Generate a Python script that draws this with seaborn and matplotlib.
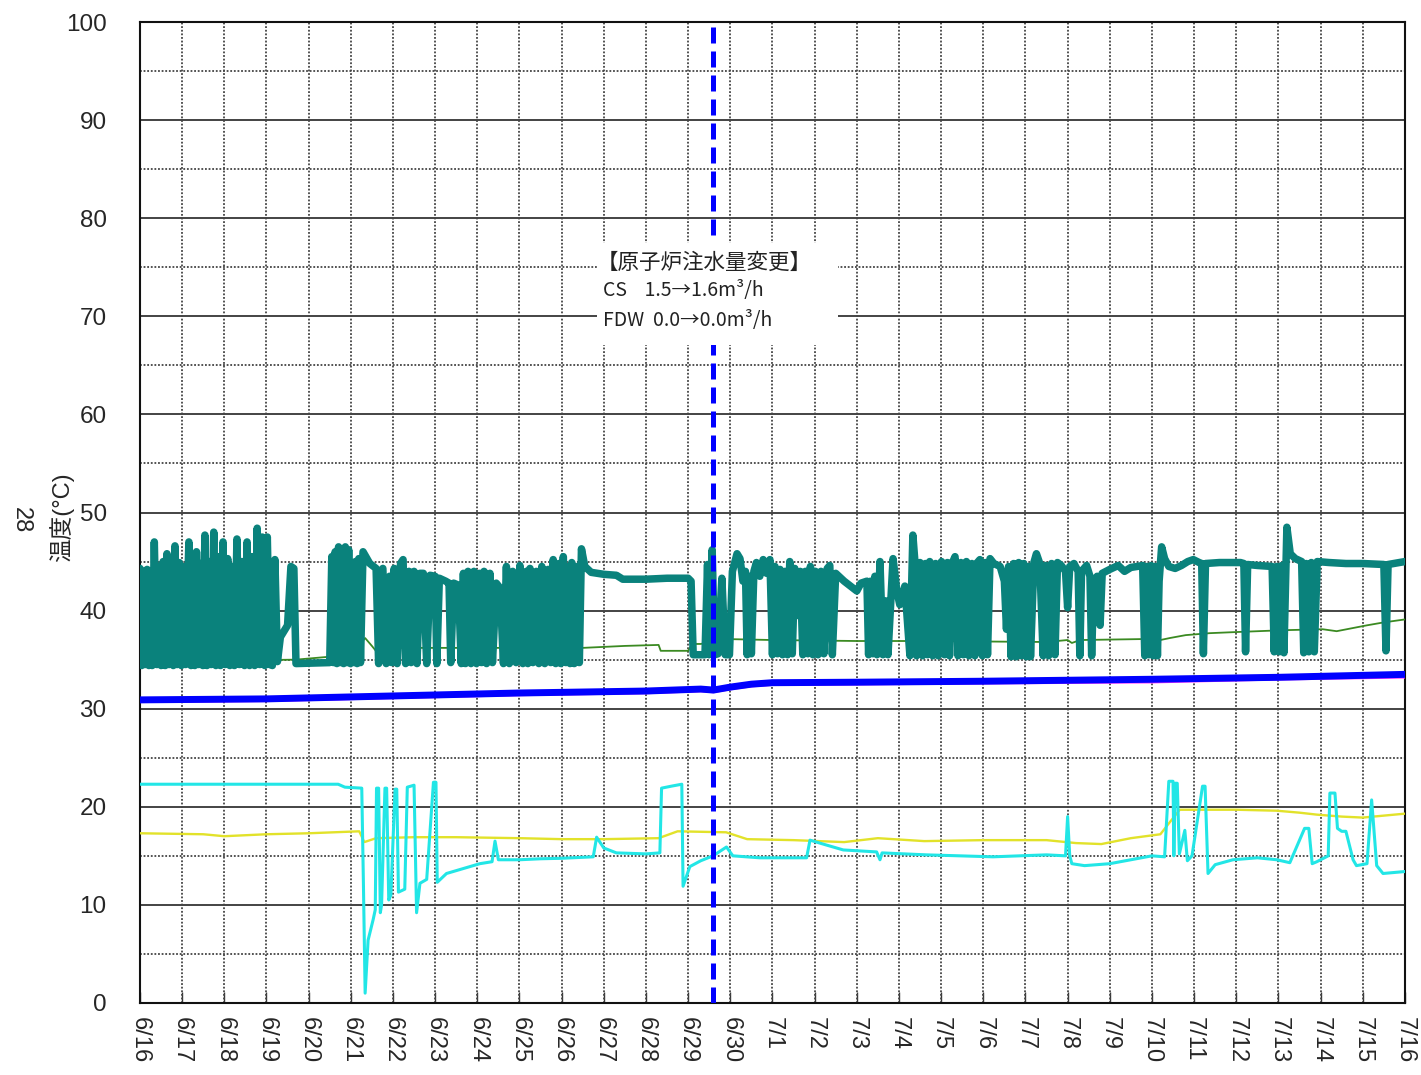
import matplotlib
matplotlib.use("Agg")
import matplotlib.pyplot as plt
from matplotlib.patches import Rectangle
import seaborn as sns
import pandas as pd

# ---------------- data (day offset from 6/16 00:00, temperature degC) ----------------
tick_labels = ["6/16", "6/17", "6/18", "6/19", "6/20", "6/21", "6/22", "6/23", "6/24", "6/25",
               "6/26", "6/27", "6/28", "6/29", "6/30", "7/1", "7/2", "7/3", "7/4", "7/5",
               "7/6", "7/7", "7/8", "7/9", "7/10", "7/11", "7/12", "7/13", "7/14", "7/15", "7/16"]
y_ticks = [0, 10, 20, 30, 40, 50, 60, 70, 80, 90, 100]

teal_points = [
    (0.00, 44.3), (0.04, 34.4), (0.08, 44.0), (0.12, 34.5), (0.17, 44.2), (0.21, 34.4), (0.25, 44.0), (0.29, 34.4),
    (0.34, 47.0), (0.40, 34.5), (0.45, 44.5), (0.50, 34.4), (0.55, 45.0), (0.60, 34.4), (0.64, 45.8), (0.69, 34.5),
    (0.74, 44.6), (0.79, 34.4), (0.83, 46.6), (0.88, 34.5), (0.93, 44.9), (0.98, 34.4), (1.03, 44.5), (1.08, 34.5),
    (1.16, 47.0), (1.21, 34.4), (1.26, 45.0), (1.30, 34.4), (1.34, 46.0), (1.39, 34.5), (1.44, 44.8), (1.49, 34.4),
    (1.54, 47.7), (1.59, 34.4), (1.64, 45.0), (1.69, 34.5), (1.75, 48.0), (1.80, 34.4), (1.86, 45.5), (1.91, 34.4),
    (1.97, 47.0), (2.02, 34.5), (2.08, 45.3), (2.13, 34.4), (2.19, 44.5), (2.24, 34.4), (2.30, 47.3), (2.36, 34.5),
    (2.42, 45.0), (2.48, 34.4), (2.54, 47.0), (2.60, 34.4), (2.66, 45.5), (2.72, 34.4), (2.78, 48.4), (2.84, 34.5),
    (2.90, 47.5), (2.96, 34.4), (3.02, 47.5), (3.08, 34.5),
    (3.14, 34.4), (3.20, 45.2), (3.26, 34.8), (3.33, 37.3), (3.50, 38.5), (3.58, 44.5), (3.65, 44.3), (3.70, 34.6),
    (4.50, 34.7),
    (4.55, 45.5), (4.59, 34.7), (4.63, 46.0), (4.67, 34.6), (4.71, 46.5), (4.75, 34.7), (4.79, 46.0), (4.83, 34.6),
    (4.87, 46.5), (4.91, 34.7), (4.95, 46.2), (4.99, 34.6), (5.03, 44.5), (5.07, 34.7), (5.11, 45.0), (5.15, 34.6),
    (5.19, 45.3), (5.23, 34.7), (5.29, 46.0), (5.45, 44.8), (5.60, 44.3),
    (5.66, 34.6), (5.76, 44.3), (5.84, 34.6), (5.92, 43.5), (5.97, 34.7), (6.03, 44.3), (6.10, 34.6), (6.18, 44.8),
    (6.24, 45.2), (6.30, 34.6), (6.38, 44.0), (6.43, 34.7), (6.50, 44.0), (6.57, 34.6), (6.64, 43.8), (6.72, 43.8),
    (6.80, 34.6), (6.88, 43.6), (7.00, 43.5), (7.04, 34.6), (7.10, 43.3), (7.25, 43.0), (7.33, 42.8), (7.37, 34.7),
    (7.44, 42.8), (7.55, 42.6), (7.62, 34.6), (7.67, 43.8), (7.72, 34.6), (7.78, 44.0), (7.85, 34.6), (7.92, 44.0),
    (7.98, 34.6), (8.05, 43.8), (8.10, 34.7), (8.16, 44.0), (8.22, 34.6), (8.30, 43.8), (8.36, 34.7), (8.45, 42.8),
    (8.54, 42.3),
    (8.62, 34.6), (8.69, 44.5), (8.76, 34.6), (8.84, 44.0), (8.92, 34.7), (9.01, 44.6), (9.08, 34.6), (9.16, 44.0),
    (9.20, 34.6), (9.25, 44.3), (9.32, 34.7), (9.40, 44.0), (9.46, 34.6), (9.53, 44.5), (9.60, 34.6), (9.68, 44.2),
    (9.74, 34.7), (9.80, 45.2), (9.86, 34.6), (9.93, 44.8), (9.98, 34.6), (10.04, 45.5), (10.10, 34.7), (10.17, 44.5),
    (10.20, 34.6), (10.24, 44.9), (10.30, 34.6), (10.38, 44.5), (10.42, 34.7), (10.47, 46.3), (10.55, 44.5),
    (10.70, 43.9), (11.00, 43.7), (11.30, 43.6), (11.45, 43.2), (12.00, 43.2), (12.50, 43.3), (13.00, 43.3),
    (13.07, 43.0), (13.12, 35.5), (13.40, 35.5),
    (13.46, 44.7), (13.50, 35.5), (13.57, 46.2), (13.63, 35.5), (13.71, 35.6), (13.80, 43.3), (13.88, 35.5),
    (13.98, 35.5), (14.05, 44.0), (14.16, 45.8), (14.23, 45.3), (14.30, 43.0), (14.36, 44.0), (14.40, 35.5),
    (14.46, 43.5), (14.50, 35.6), (14.56, 44.0), (14.62, 44.9), (14.70, 43.5), (14.78, 45.2), (14.86, 43.8),
    (14.94, 45.2),
    (15.00, 35.5), (15.06, 44.5), (15.12, 35.6), (15.18, 44.2), (15.24, 35.5), (15.30, 44.0), (15.36, 35.5),
    (15.41, 45.0), (15.47, 35.6), (15.53, 44.3), (15.60, 39.5), (15.66, 44.0), (15.72, 35.5), (15.78, 44.0),
    (15.84, 35.6), (15.90, 44.5), (15.96, 35.5), (16.02, 44.0), (16.08, 35.5), (16.15, 44.0), (16.22, 35.6),
    (16.30, 44.3), (16.36, 44.6), (16.42, 35.5), (16.50, 43.8),
    (16.70, 43.0), (16.85, 42.5), (17.00, 42.0), (17.10, 42.8), (17.24, 43.0),
    (17.28, 35.5), (17.33, 43.0), (17.38, 35.6), (17.43, 43.5), (17.48, 35.5), (17.55, 45.0), (17.62, 35.5),
    (17.68, 41.0), (17.74, 35.5), (17.86, 45.3), (17.95, 42.0), (18.02, 40.6), (18.14, 42.5), (18.26, 35.4),
    (18.33, 47.7), (18.38, 44.9),
    (18.42, 35.4), (18.50, 44.9), (18.56, 35.4), (18.63, 44.8), (18.68, 35.5), (18.73, 45.0), (18.80, 35.4),
    (18.87, 44.8), (18.93, 35.4), (19.01, 45.0), (19.08, 35.5), (19.15, 44.9), (19.20, 35.4), (19.27, 44.9),
    (19.33, 45.5), (19.40, 35.4), (19.47, 44.9), (19.53, 35.5), (19.60, 45.0), (19.66, 35.4), (19.73, 44.8),
    (19.80, 35.4), (19.86, 44.9), (19.92, 45.2), (19.98, 35.4), (20.05, 44.9), (20.10, 35.5), (20.16, 45.3),
    (20.25, 44.8), (20.40, 44.5), (20.50, 43.0), (20.55, 38.1), (20.60, 44.5),
    (20.66, 35.3), (20.72, 44.8), (20.78, 35.3), (20.84, 44.9), (20.90, 35.4), (20.96, 44.8), (21.02, 35.3),
    (21.08, 44.5), (21.12, 35.3), (21.20, 44.9), (21.26, 45.8),
    (21.34, 44.8), (21.42, 35.4), (21.48, 44.6), (21.55, 35.4), (21.62, 44.8), (21.70, 35.5), (21.76, 44.9),
    (21.85, 44.6), (21.95, 44.0), (22.00, 40.3), (22.05, 44.5), (22.15, 44.8), (22.25, 44.0), (22.29, 35.4),
    (22.33, 44.0), (22.45, 44.6), (22.53, 43.5), (22.57, 35.4), (22.62, 43.0), (22.70, 43.5), (22.77, 38.5),
    (22.82, 43.8), (23.00, 44.2),
    (23.20, 44.6), (23.35, 44.0), (23.50, 44.4), (23.65, 44.5), (23.78, 44.6),
    (23.83, 35.4), (23.88, 44.5), (23.93, 35.5), (23.98, 44.6), (24.03, 35.4), (24.08, 44.5), (24.13, 35.4),
    (24.17, 43.0),
    (24.23, 46.5), (24.30, 45.3), (24.40, 44.5), (24.55, 44.3), (24.70, 44.6), (24.85, 45.0), (24.98, 45.2),
    (25.12, 44.9), (25.18, 44.8), (25.22, 35.6), (25.27, 44.8),
    (25.60, 44.9), (26.10, 44.9), (26.18, 44.8), (26.22, 35.8), (26.27, 44.7), (26.50, 44.6), (26.85, 44.5),
    (26.90, 35.8), (26.96, 44.5), (27.02, 35.8), (27.08, 44.6), (27.13, 35.7), (27.20, 48.5), (27.28, 45.8),
    (27.40, 45.3), (27.55, 45.0), (27.60, 35.7), (27.66, 44.8), (27.72, 35.8), (27.78, 44.9), (27.85, 35.8),
    (27.92, 45.0), (28.20, 44.9), (28.60, 44.8), (29.00, 44.8), (29.50, 44.7), (29.55, 35.9), (29.60, 44.7),
    (30.00, 45.0),
]

green_points = [
    (0.0, 34.8), (3.7, 35.0), (4.5, 35.3), (5.0, 35.4), (5.34, 37.2), (5.5, 36.4), (5.65, 35.6), (5.75, 36.2),
    (8.0, 36.2), (10.5, 36.2), (11.0, 36.3), (11.5, 36.4), (12.3, 36.5), (12.35, 35.9), (13.0, 35.9),
    (13.1, 36.6), (13.3, 36.6), (13.9, 37.1), (15.0, 37.0), (17.0, 36.9), (18.5, 36.9), (21.5, 36.8),
    (22.0, 37.0), (22.1, 36.7), (22.3, 37.0), (23.8, 37.1), (24.0, 37.3), (24.2, 37.0), (24.42, 37.2),
    (24.8, 37.5), (25.37, 37.7), (25.92, 37.8), (27.1, 38.0), (28.05, 38.1), (28.38, 37.9), (29.1, 38.5),
    (29.5, 38.8), (30.0, 39.1),
]

blue_points = [
    (0.0, 30.9), (3.0, 31.0), (6.0, 31.3), (9.0, 31.6), (12.0, 31.8), (13.3, 32.0), (13.6, 31.9),
    (14.0, 32.2), (14.5, 32.5), (15.0, 32.65), (17.0, 32.7), (20.0, 32.8), (24.0, 33.0), (27.0, 33.2),
    (30.0, 33.5),
]

magenta_points = [
    (0.0, 30.7), (3.0, 30.8), (6.0, 31.1), (9.0, 31.4), (12.0, 31.6), (13.3, 31.8), (13.6, 31.7),
    (14.0, 32.0), (14.5, 32.3), (15.0, 32.45), (17.0, 32.5), (20.0, 32.6), (24.0, 32.7), (27.0, 33.0),
    (30.0, 33.2),
]

cyan_points = [
    (0.0, 22.3), (4.7, 22.3), (4.86, 22.0), (5.26, 21.9), (5.30, 12.0), (5.34, 1.0), (5.41, 6.4), (5.53, 8.5),
    (5.58, 9.5), (5.61, 21.9), (5.66, 21.9), (5.70, 9.2), (5.73, 10.0), (5.81, 21.9), (5.85, 21.9),
    (5.90, 10.5), (5.95, 11.0), (6.05, 21.8), (6.09, 21.8), (6.13, 11.3), (6.28, 11.6), (6.34, 22.0),
    (6.50, 22.2), (6.56, 9.2), (6.64, 12.2), (6.80, 12.6), (6.96, 22.5), (7.02, 22.5), (7.05, 12.3),
    (7.27, 13.2), (8.06, 14.2), (8.35, 14.4), (8.42, 16.5), (8.5, 14.6), (9.0, 14.6), (9.5, 14.7),
    (10.0, 14.75), (10.75, 14.9), (10.83, 16.9), (11.0, 15.8), (11.3, 15.3), (12.0, 15.2), (12.33, 15.3),
    (12.37, 21.9), (12.6, 22.1), (12.85, 22.3), (12.88, 11.9), (13.04, 13.9), (13.3, 14.5), (13.59, 15.0),
    (13.91, 15.9), (14.06, 15.0), (14.7, 14.8), (15.81, 14.8), (15.89, 16.6), (16.28, 16.1), (16.68, 15.6),
    (17.47, 15.4), (17.55, 14.6), (17.6, 15.3), (18.65, 15.1), (20.23, 14.9), (21.5, 15.1), (21.95, 15.0),
    (22.0, 19.0), (22.05, 15.0), (22.1, 14.2), (22.4, 14.0), (23.0, 14.2), (23.5, 14.6), (24.0, 15.0),
    (24.3, 14.9), (24.4, 22.6), (24.5, 22.6), (24.52, 15.0), (24.55, 22.4), (24.6, 22.4), (24.65, 15.2),
    (24.78, 17.6), (24.84, 14.5), (24.95, 15.0), (25.2, 22.1), (25.26, 22.1), (25.33, 13.2), (25.5, 14.1),
    (25.92, 14.6), (26.5, 14.8), (26.96, 14.6), (27.27, 14.3), (27.62, 17.8), (27.72, 17.8), (27.8, 14.2),
    (27.91, 14.4), (28.18, 15.0), (28.22, 21.4), (28.34, 21.4), (28.40, 17.8), (28.5, 17.5), (28.6, 17.5),
    (28.77, 14.6), (28.85, 14.0), (29.1, 14.2), (29.21, 20.7), (29.33, 14.0), (29.48, 13.2), (30.0, 13.4),
]

yellow_points = [
    (0.0, 17.3), (1.5, 17.2), (2.0, 17.0), (3.0, 17.2), (4.0, 17.3), (5.2, 17.5), (5.32, 16.4), (5.6, 16.8),
    (6.5, 16.9), (7.5, 16.9), (9.0, 16.8), (10.0, 16.7), (11.0, 16.7), (12.3, 16.8), (12.75, 17.5),
    (13.9, 17.4), (14.4, 16.7), (15.5, 16.6), (16.7, 16.4), (17.5, 16.8), (18.6, 16.5), (20.0, 16.6),
    (21.5, 16.6), (22.2, 16.3), (22.8, 16.2), (23.5, 16.8), (24.2, 17.2), (24.4, 18.3), (24.66, 19.7),
    (26.0, 19.7), (26.96, 19.6), (27.5, 19.4), (27.91, 19.2), (28.5, 19.0), (29.0, 18.9), (30.0, 19.3),
]

event_day = 13.6
event_lines = ["【原子炉注水量変更】", "CS    1.5→1.6m³/h", "FDW  0.0→0.0m³/h"]

# ---------------- plotting ----------------
sns.set_theme(style="white")
plt.rcParams["font.family"] = ["Liberation Sans", "Noto Sans CJK JP", "DejaVu Sans"]

fig = plt.figure(figsize=(14.21, 10.75), dpi=100)
ax = fig.add_axes([0.0985, 0.067, 0.8902, 0.9125])


def frame(points):
    return pd.DataFrame(points, columns=["day", "temp"])


series = [
    (yellow_points, "#e2e22a", 1.7, 3),
    (cyan_points, "#22e6e6", 2.2, 4),
    (green_points, "#3b8a22", 1.3, 5),
    (teal_points, "#0a827c", 5.4, 6),
    (magenta_points, "#ff33ff", 1.8, 7),
    (blue_points, "#0000ff", 5.0, 8),
]
for pts, col, lw, z in series:
    sns.lineplot(data=frame(pts), x="day", y="temp", ax=ax, color=col, linewidth=lw,
                 sort=False, estimator=None, zorder=z)
for ln in ax.get_lines():
    ln.set_solid_joinstyle("round")
    ln.set_solid_capstyle("round")

ax.axvline(event_day, color="#0000ff", linewidth=3.6, linestyle=(0, (3.2, 1.6)), zorder=9)

# annotation box
ax.add_patch(Rectangle((10.84, 67.1), 5.71, 10.4, facecolor="white", edgecolor="none", zorder=10))
cjk = ["Noto Sans CJK JP", "DejaVu Sans"]
latin_cjk = ["Liberation Sans", "Noto Sans CJK JP"]
ax.text(10.84, 75.45, event_lines[0], fontsize=15.5, color="#222222", va="center", ha="left",
        family=cjk, zorder=11)
ax.text(10.98, 72.6, event_lines[1], fontsize=14, color="#222222", va="center", ha="left",
        family=cjk, zorder=11)
ax.text(10.98, 69.6, event_lines[2], fontsize=14, color="#222222", va="center", ha="left",
        family=cjk, zorder=11)

ax.set_xlim(0, 30)
ax.set_ylim(0, 100)
ax.set_xticks(range(len(tick_labels)))
ax.set_xticklabels(tick_labels, rotation=270, fontsize=17)
ax.set_yticks(y_ticks)
ax.set_yticklabels([str(v) for v in y_ticks], fontsize=17.5)
ax.set_xlabel("")
ax.set_ylabel("")

# grid
for v in y_ticks:
    ax.axhline(v, color="#111111", linewidth=1.1, zorder=1)
for v in y_ticks[:-1]:
    ax.axhline(v + 5, color="#444444", linewidth=1.3, linestyle=(0, (1, 1)), zorder=1)
for d in range(1, len(tick_labels) - 1):
    ax.axvline(d, color="#444444", linewidth=1.3, linestyle=(0, (1, 1)), zorder=1)

for s in ax.spines.values():
    s.set_visible(True)
    s.set_color("#111111")
    s.set_linewidth(1.5)

ax.tick_params(axis="x", which="major", direction="in", length=8, width=1, color="#333333", pad=10,
               bottom=True)
ax.tick_params(axis="y", which="both", length=0, pad=24)

fig.text(62 / 1421, 1 - 517 / 1075, "温度(°C)", rotation=90, fontsize=17, ha="center", va="center",
         family=latin_cjk)
fig.text(21 / 1421, 1 - 520 / 1075, "28", rotation=270, fontsize=17, ha="center", va="center")

fig.savefig("out.png", dpi=100, facecolor="white")
